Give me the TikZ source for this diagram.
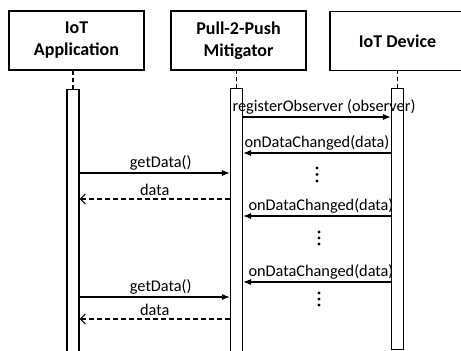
\documentclass[tikz,border=0pt]{standalone}
\usepackage{fontspec}
\setmainfont{Carlito}
\usetikzlibrary{arrows.meta}
\usetikzlibrary{positioning}
\usetikzlibrary{calc}

\begin{document}
\begin{tikzpicture}[x=1pt,y=-1pt,
  actor/.style={rectangle, draw, line width=1.1pt, minimum width=135pt,
    minimum height=59pt, align=center,
    font=\fontsize{18}{22}\selectfont\bfseries},
  bar/.style={rectangle, draw, line width=1.1pt, minimum width=12pt,
    inner sep=0pt, anchor=north},
  msg/.style={line width=1.1pt, -{Latex[length=8pt,width=6pt]}},
  reply/.style={line width=1.1pt, dash pattern=on 5pt off 3pt,
    -{Straight Barb[length=5pt,width=10pt]}},
  lbl/.style={font=\fontsize{16.3}{19}\selectfont, inner sep=2pt, above}]

  \useasboundingbox (0,0) rectangle (461,351);
  \clip (0,0) rectangle (461,351);

  \node[actor] at (76.5,40.5) (App) {IoT\\Application};
  \node[actor] at (238.5,40.5) (Mit) {Pull-2-Push\\Mitigator};
  \node[actor] at (397.5,41) (Dev) {IoT Device};

  \node[bar, minimum height=270pt] at (73,89) (AppBar) {};
  \node[bar, minimum height=270pt] at (236.5,88) (MitBar) {};
  \node[bar, minimum height=261pt] at (397.5,88) (DevBar) {};

  \path[line width=1.1pt, dash pattern=on 4pt off 3pt]
  (AppBar.north) edge (AppBar.north |- App.south)
  (MitBar.north) edge (MitBar.north |- Mit.south)
  (DevBar.north) edge (DevBar.north |- Dev.south);

  \coordinate (reg) at (0,117);
  \coordinate (chg1) at (0,153);
  \coordinate (get1) at (0,173);
  \coordinate (dat1) at (0,199);
  \coordinate (chg2) at (0,216);
  \coordinate (chg3) at (0,282);
  \coordinate (get2) at (0,297);
  \coordinate (dat2) at (0,319);

  \draw[msg] (MitBar.east |- reg) -- node[lbl, xshift=7pt] {registerObserver (observer)} (DevBar.west |- reg);
  \draw[msg] (DevBar.west |- chg1) -- node[lbl] {onDataChanged(data)} (MitBar.east |- chg1);
  \draw[msg] (AppBar.east |- get1) -- node[lbl, xshift=6pt] {getData()} (MitBar.west |- get1);
  \draw[reply] (MitBar.west |- dat1) -- node[lbl, inner sep=3pt] {data} (AppBar.east |- dat1);
  \draw[msg] (DevBar.west |- chg2) -- node[lbl, xshift=4pt] {onDataChanged(data)} (MitBar.east |- chg2);
  \draw[msg] (DevBar.west |- chg3) -- node[lbl, xshift=4pt] {onDataChanged(data)} (MitBar.east |- chg3);
  \draw[msg] (AppBar.east |- get2) -- node[lbl, xshift=6pt] {getData()} (MitBar.west |- get2);
  \draw[reply] (MitBar.west |- dat2) -- node[lbl, inner sep=3pt] {data} (AppBar.east |- dat2);

  \coordinate (dots1) at (317,168);
  \coordinate (dots2) at (319,232);
  \coordinate (dots3) at (319,293);
  \fill (dots1) circle (1.7) ++(0,6.5) circle (1.7) ++(0,6.5) circle (1.7);
  \fill (dots2) circle (1.7) ++(0,6) circle (1.7) ++(0,6) circle (1.7);
  \fill (dots3) circle (1.7) ++(0,6) circle (1.7) ++(0,6) circle (1.7);

\end{tikzpicture}
\end{document}
